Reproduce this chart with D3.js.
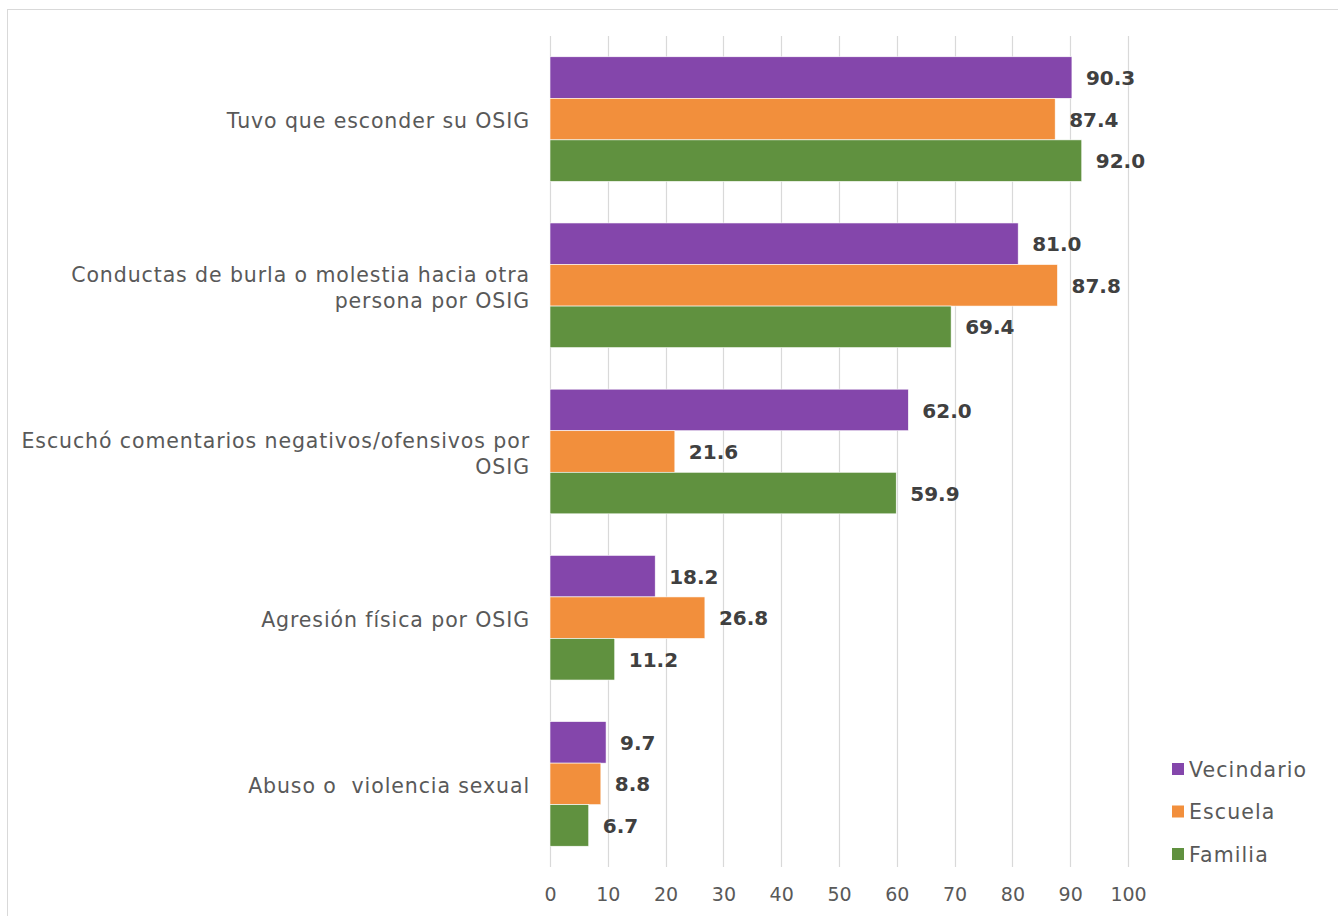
<!DOCTYPE html>
<html><head><meta charset="utf-8">
<script src="https://cdn.jsdelivr.net/npm/d3@7"></script>
<style>body{margin:0;background:#fff;} svg{display:block;}</style>
</head><body>
<svg id="chart" width="1338" height="916"></svg>
<script>
const categories = [
  ["Tuvo que esconder su OSIG"],
  ["Conductas de burla o molestia hacia otra", "persona por OSIG"],
  ["Escuchó comentarios negativos/ofensivos por", "OSIG"],
  ["Agresión física por OSIG"],
  ["Abuso o  violencia sexual"]
];
const seriesNames = ["Vecindario", "Escuela", "Familia"];
const vecindario = [90.3, 81.0, 62.0, 18.2, 9.7];
const escuela = [87.4, 87.8, 21.6, 26.8, 8.8];
const familia = [92.0, 69.4, 59.9, 11.2, 6.7];
const tickValues = [0,10,20,30,40,50,60,70,80,90,100];
const colors = ["#8446ab", "#f28f3c", "#60913f"];

const seriesValues = [vecindario, escuela, familia];
const FONT = "'DejaVu Sans', sans-serif";
const svg = d3.select("#chart");
svg.append("rect").attr("x",7.5).attr("y",9.5).attr("width",1340).attr("height",920)
  .attr("fill","#fff").attr("stroke","#d9d9d9").attr("stroke-width",1);

const x = d3.scaleLinear().domain([0,100]).range([550,1128]);
const catIdx = categories.map((d,i)=>i);
const y0 = d3.scaleBand().domain(catIdx).range([36,867]).paddingInner(0.25).paddingOuter(0.125);
const y1 = d3.scaleBand().domain(seriesNames).range([0,y0.bandwidth()]);

// gridlines
svg.append("g").selectAll("line").data(tickValues).join("line")
  .attr("x1",d=>Math.round(x(d))+0.5).attr("x2",d=>Math.round(x(d))+0.5)
  .attr("y1",36).attr("y2",867).attr("stroke","#d9d9d9").attr("stroke-width",1.2);

// x axis labels
const xa = svg.append("g").attr("transform","translate(0,867)")
  .call(d3.axisBottom(x).tickValues(tickValues).tickSize(0).tickPadding(21));
xa.select(".domain").remove();
xa.selectAll("text").attr("font-family",FONT).attr("font-size",19).attr("fill","#595959");

// bars
const groups = svg.append("g").selectAll("g").data(catIdx).join("g")
  .attr("transform",i=>`translate(0,${y0(i)})`);
groups.selectAll("rect").data(i=>seriesNames.map((s,k)=>({s,k,v:seriesValues[k][i]}))).join("rect")
  .attr("x",x(0)).attr("y",d=>y1(d.s)).attr("width",d=>x(d.v)-x(0)).attr("height",y1.bandwidth())
  .attr("fill",d=>colors[d.k]).attr("stroke","#fff").attr("stroke-width",0.6);
groups.selectAll("text").data(i=>seriesNames.map((s,k)=>({s,k,v:seriesValues[k][i]}))).join("text")
  .attr("x",d=>x(d.v)+14).attr("y",d=>y1(d.s)+y1.bandwidth()/2).attr("dy","0.38em")
  .attr("font-family",FONT).attr("font-size",20).attr("font-weight","bold").attr("fill","#404040")
  .text(d=>d.v.toFixed(1));

// category labels
const cl = svg.append("g").selectAll("text").data(catIdx).join("text")
  .attr("text-anchor","end").attr("font-family",FONT).attr("font-size",20.5).attr("fill","#595959")
  .attr("letter-spacing","0.9px").style("white-space","pre")
  .attr("transform",i=>`translate(530,${y0(i)+y0.bandwidth()/2+2})`);
cl.each(function(i){
  const lines = categories[i];
  const t = d3.select(this);
  const lh = 26;
  lines.forEach((ln,j)=>{
    t.append("tspan").attr("x",0).attr("y",(j-(lines.length-1)/2)*lh).attr("dy","0.36em").text(ln);
  });
});

// legend
const lg = svg.append("g").selectAll("g").data(seriesNames).join("g")
  .attr("transform",(d,k)=>`translate(1172,${769+k*42.5})`);
lg.append("rect").attr("x",0).attr("y",-6).attr("width",12).attr("height",12).attr("fill",(d,k)=>colors[k]);
lg.append("text").attr("x",17).attr("y",0).attr("dy","0.38em").attr("font-family",FONT)
  .attr("font-size",20.5).attr("letter-spacing","1.1px").attr("fill","#595959").text(d=>d);
</script>
</body></html>
